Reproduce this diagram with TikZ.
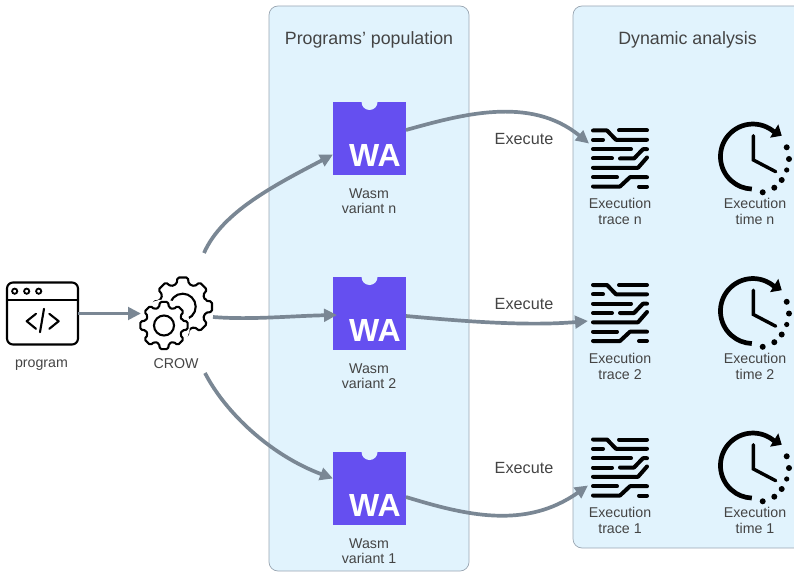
\documentclass[tikz,border=0pt]{standalone}
\usepackage{fontspec}
\setmainfont{Liberation Sans}
\usetikzlibrary{arrows.meta}
\definecolor{panelfill}{HTML}{E1F3FD}
\definecolor{panelline}{HTML}{9AA6B2}
\definecolor{edgecol}{HTML}{7A8794}
\definecolor{wasm}{HTML}{654FF0}
\definecolor{txt}{HTML}{444444}
\newcommand{\gearpath}[4]{% cx cy outer inner (8 teeth)
  \draw[iconline,fill=white,rounded corners=1.6pt] ({#1+#4*cos(-15)},{#2+#4*sin(-15)})
  \foreach \k in {0,...,7}{
      -- ({#1+#3*cos(\k*45-10)},{#2+#3*sin(\k*45-10)})
      -- ({#1+#3*cos(\k*45+10)},{#2+#3*sin(\k*45+10)})
      -- ({#1+#4*cos(\k*45+15)},{#2+#4*sin(\k*45+15)})
      -- ({#1+#4*cos(\k*45+30)},{#2+#4*sin(\k*45+30)})
  } -- cycle;}
\tikzset{
  x=1pt,y=-1pt,
  panel/.style={draw=panelline,fill=panelfill,line width=0.7pt,rounded corners=9pt},
  anchorbox/.style={minimum width=#1,inner sep=0pt,outer sep=0pt},
  label text/.style={text=txt,font=\fontsize{14.2}{15.5}\selectfont,align=center,inner sep=0pt},
  title text/.style={text=txt,font=\fontsize{17.8}{18}\selectfont,inner sep=0pt},
  exec text/.style={text=txt,font=\fontsize{16.2}{17}\selectfont,inner sep=0pt},
  flow/.style={draw=edgecol,line width=3.7pt,-{Triangle[length=13pt,width=12.5pt]}},
  iconline/.style={draw=black,line width=2.1pt,line join=round,line cap=round},
  traceline/.style={draw=black,line width=4pt,line cap=round,line join=round},
  clockline/.style={draw=black,line width=4.7pt},
  wabox/.style={fill=wasm,minimum width=73pt,minimum height=73pt,inner sep=0pt,outer sep=0pt},
  tracebox/.style={minimum width=60pt,minimum height=60pt,inner sep=0pt,outer sep=0pt},
  wa/.pic={
    \fill[wasm] (-36.5,-36.5) rectangle (36.5,36.5);
    \fill[panelfill] (-8,-36.5) arc[start angle=180,end angle=360,radius=8,y radius=-8] -- cycle;
    \node[text=white,font=\bfseries\fontsize{32}{32}\selectfont,inner sep=0pt] at (5.5,16.5) {WA};
  },
  tracepic/.pic={
    \draw[traceline] (-27,-28) -- (-13,-28) -- (-4,-18.7) -- (27,-18.7);
    \draw[traceline] (-1,-28) -- (27,-28);
    \draw[traceline] (-27,-18.7) -- (-17,-18.7);
    \draw[traceline] (-27,-9.3) -- (11,-9.3);
    \draw[traceline] (-27,0) -- (-8,0);
    \draw[traceline] (0,0) -- (14,0) -- (23,-9.3) -- (27,-9.3);
    \draw[traceline] (-27,9.3) -- (18,9.3) -- (27,-1);
    \draw[traceline] (-27,18.7) -- (-3,18.7);
    \draw[traceline] (-27,28) -- (0,28) -- (10,18.7) -- (27,18.7);
    \draw[traceline] (19,28) -- (27,28);
  },
  clockpic/.pic={
    \draw[clockline] (22,-27.6) arc[start angle=-48,end angle=-268,radius=32.5];
    \fill[black] (29,-24.3) -- (17.3,-22.3) -- (25.6,-35.7) -- cycle;
    \draw[line width=3.4pt,line join=miter,line cap=round] (0.7,-24.3) -- (0.7,0) -- (23,11.7);
    \fill (10,32.3) circle (3);
    \fill (21.6,27.7) circle (3);
    \fill (29,20) circle (3);
    \fill (34,10) circle (2.6);
    \fill (36.3,-1) circle (3);
    \fill (34,-12.7) circle (3);
  },
  codepic/.pic={
    \draw[iconline,rounded corners=6pt] (-35.5,-31) rectangle (35.5,31);
    \draw[iconline] (-35.5,-13.7) -- (35.5,-13.7);
    \foreach \q in {-27.8,-15.8,-3.8}{\draw[black,line width=1.8pt] (\q,-22.3) circle (2.6);}
    \draw[iconline] (-6.5,0.3) -- (-15.8,7.7) -- (-6.5,15.3);
    \draw[iconline] (6.8,0.3) -- (16.2,7.7) -- (6.8,15.3);
    \draw[iconline] (1.5,-4.7) -- (-2.5,18.7);
  },
  gearpic/.pic={
    \gearpath{5.7}{-7.3}{29.7}{23.5}
    \draw[line width=2.1pt] (5.7,-7.3) circle (13);
    \fill[white] (-13,11.5) circle (26);
    \gearpath{-13}{11.5}{24}{18.7}
    \draw[iconline] (-13,11.5) circle (10);
  },
}
\begin{document}
\begin{tikzpicture}
\useasboundingbox (0,0) rectangle (794,572);
\clip (0,0) rectangle (794,572);
\draw[panel] (269,6) rectangle (469,571);
\draw[panel] (573,6) rectangle (815,548);
\node[title text] (tpop) at (369,39.5) {Programs' population};
\node[title text] (tdyn) at (687.5,39.5) {Dynamic analysis};

% anchors for the icons
\node[anchorbox=71pt,minimum height=62pt] (prog) at (42.5,313.5) {};
\node[anchorbox=72pt,minimum height=121pt] (crow) at (177,313.5) {};
\node[wabox] (wan) at (369.5,138.5) {};
\node[wabox] (wa2) at (369.5,313.5) {};
\node[wabox] (wa1) at (369.5,488.5) {};
\node[tracebox] (trn) at (620,158.5) {};
\node[tracebox] (tr2) at (620,313) {};
\node[tracebox] (tr1) at (620,467.5) {};

\pic at (prog) {codepic};
\pic at (177,314) {gearpic};
\pic at (wan) {wa};
\pic at (wa2) {wa};
\pic at (wa1) {wa};
\pic at (trn) {tracepic};
\pic at (tr2) {tracepic};
\pic at (tr1) {tracepic};
\pic at (752.7,160) {clockpic};
\pic at (752.7,314.5) {clockpic};
\pic at (752.7,469) {clockpic};

\node[label text] (lprog) at (41.5,365.5) {program};
\node[label text] (lcrow) at (176,363.5) {CROW};
\node[label text] (lwan) at (369,201) {Wasm\\variant n};
\node[label text] (lwa2) at (369,376) {Wasm\\variant 2};
\node[label text] (lwa1) at (369,551) {Wasm\\variant 1};
\node[label text] (ltrn) at (620,211.3) {Execution\\trace n};
\node[label text] (ltr2) at (620,366.3) {Execution\\trace 2};
\node[label text] (ltr1) at (620,520.3) {Execution\\trace 1};
\node[label text] (lcln) at (755,211.3) {Execution\\time n};
\node[label text] (lcl2) at (755,366.3) {Execution\\time 2};
\node[label text] (lcl1) at (755,520.3) {Execution\\time 1};
\node[exec text] (e3) at (524,139.5) {Execute};
\node[exec text] (e2) at (524,304.5) {Execute};
\node[exec text] (e1) at (524,468.5) {Execute};

\draw[flow] (prog.east) -- (crow.west);
\draw[flow] ([xshift=-9pt]crow.north east) .. controls (222,212) and (275,185) .. ([yshift=-16pt]wan.west);
\draw[flow] ([yshift=-3.5pt]crow.east) .. controls (250,320) and (290,316) .. ([yshift=-1.5pt,xshift=4pt]wa2.west);
\draw[flow] ([xshift=-8pt,yshift=1pt]crow.south east) .. controls (225,412) and (270,455) .. ([yshift=10pt]wa1.west);
\draw[flow] ([yshift=8.5pt]wan.east) .. controls (460,115) and (530,95) .. ([yshift=15pt,xshift=-1pt]trn.west);
\draw[flow] ([yshift=-2.5pt]wa2.east) .. controls (470,322) and (530,326) .. ([yshift=-8pt,xshift=-2pt]tr2.west);
\draw[flow] ([yshift=-8.5pt]wa1.east) .. controls (465,515) and (525,530) .. ([yshift=-18pt,xshift=-2pt]tr1.west);
\end{tikzpicture}
\end{document}
